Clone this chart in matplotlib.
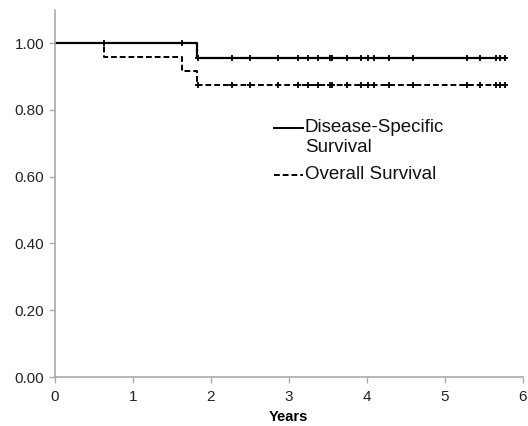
import numpy as np
import matplotlib
matplotlib.use("Agg")
import matplotlib.pyplot as plt

plt.rcParams['font.family'] = ['Liberation Sans', 'DejaVu Sans']

# step curves (time, survival)
dss_t = [0, 1.82, 5.77]
dss_s = [1.00, 0.955, 0.955]
os_t = [0, 0.63, 1.63, 1.82, 5.77]
os_s = [1.00, 0.958, 0.917, 0.875, 0.875]

# censored times
cens_dss = [0.63, 1.63, 1.84, 2.27, 2.50, 2.86, 3.12, 3.25, 3.38, 3.53, 3.56, 3.74,
            3.92, 4.02, 4.09, 4.29, 4.59, 5.29, 5.45, 5.66, 5.71, 5.77]
cens_os = [1.84, 2.27, 2.50, 2.86, 3.12, 3.25, 3.38, 3.53, 3.56, 3.74,
           3.92, 4.02, 4.09, 4.29, 4.59, 5.29, 5.45, 5.66, 5.71, 5.77]

yticks = [0, 0.2, 0.4, 0.6, 0.8, 1.0]

def surv_at(t, times, surv):
    idx = np.searchsorted(times, t, side='right') - 1
    return np.array(surv)[idx]

fig = plt.figure(figsize=(5.28, 4.26), dpi=100)
ax = fig.add_axes([0.104, 0.115, 0.886, 0.862])

dash = (0, (3, 1.5))
ax.step(dss_t, dss_s, where='post', color='black', lw=1.6)
ax.step(os_t, os_s, where='post', color='black', lw=1.4, ls=dash)

ax.plot(cens_dss, surv_at(np.array(cens_dss), dss_t, dss_s), ls='none', marker='+',
        ms=4, mew=1.3, color='black')
ax.plot(cens_os, surv_at(np.array(cens_os), os_t, os_s), ls='none', marker='+',
        ms=4, mew=1.3, color='black')

ax.set_xlim(0, 6)
ax.set_ylim(0, 1.1)
ax.set_xticks(range(7))
ax.set_yticks(yticks)
ax.set_yticklabels(['%.2f' % v for v in yticks])
for s in ['top', 'right']:
    ax.spines[s].set_visible(False)
for s in ['left', 'bottom']:
    ax.spines[s].set_color('#aaaaaa')
    ax.spines[s].set_linewidth(1.2)
ax.tick_params(colors='#aaaaaa', labelcolor='#222222', labelsize=11, length=4, width=1)
ax.tick_params(axis='x', pad=5)
ax.set_xlabel('Years', fontsize=10.5, fontweight='bold', labelpad=5)

# legend drawn by hand so the key lines up with the first text line
ax.plot([0.468, 0.530], [0.679, 0.679], transform=ax.transAxes, color='black', lw=1.4)
ax.plot([0.468, 0.530], [0.551, 0.551], transform=ax.transAxes, color='black', lw=1.4, ls=dash)
ax.text(0.534, 0.679, 'Disease-Specific', transform=ax.transAxes, va='center', fontsize=13.5, color='#111111')
ax.text(0.534, 0.624, 'Survival', transform=ax.transAxes, va='center', fontsize=13.5, color='#111111')
ax.text(0.534, 0.551, 'Overall Survival', transform=ax.transAxes, va='center', fontsize=13.5, color='#111111')

fig.savefig('out.png', dpi=100)
